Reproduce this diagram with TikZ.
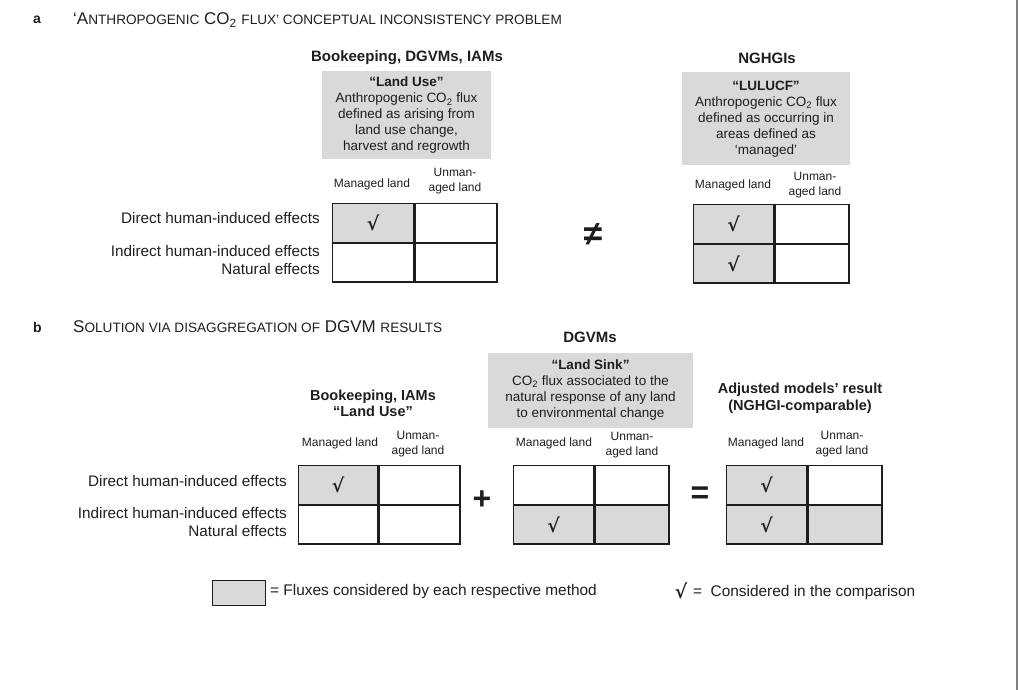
\documentclass[tikz,border=0pt]{standalone}
\usepackage{fontspec}
\setmainfont{Liberation Sans}
\newfontfamily\checkfont{DejaVu Serif}
\usetikzlibrary{positioning}
\definecolor{fluxgray}{RGB}{217,217,217}
\definecolor{inkgray}{RGB}{30,30,30}
\newcommand{\fsc}[1]{{\fontsize{13.6}{14}\selectfont #1}}
\newcommand{\chk}{{\checkfont\bfseries\fontsize{19}{19}\selectfont √}}
\tikzset{
  cell/.style={draw=inkgray, line width=1.3pt, minimum height=38.5pt, inner sep=0pt, anchor=north west},
  lit/.style={fill=fluxgray},
  defbox/.style={fill=fluxgray, align=center, inner sep=0pt, font=\fontsize{13.5}{16}\selectfont},
  method/.style={align=center, font=\bfseries\fontsize{15}{18}\selectfont},
  collab/.style={font=\fontsize{12}{15}\selectfont, inner sep=0pt},
  rowlab/.style={anchor=east, align=right, inner sep=0pt, font=\fontsize{15.3}{18}\selectfont},
  paneltitle/.style={anchor=west, inner sep=0pt, font=\fontsize{17}{17}\selectfont},
  keytxt/.style={anchor=west, inner sep=0pt, font=\fontsize{15.4}{16}\selectfont},
  bigop/.style={inner sep=0pt, font=\fontsize{30}{30}\selectfont}
}
\begin{document}
\begin{tikzpicture}[x=1pt, y=-1pt, text=inkgray]
  \useasboundingbox (0,0) rectangle (1018,690);
  %%%%% START %%%%%
  \def\rowh{38.5pt}
  \def\cwa{80pt}
  \def\cwb{74pt}

  \draw[black!50, line width=1.5pt] (1017,0) -- (1017,690);

  %% panel a
  \node[paneltitle, font=\bfseries\fontsize{14}{16}\selectfont] (tagA) at (33,20) {a};
  \node[paneltitle] (titleA) at (73,20) {‘A\fsc{NTHROPOGENIC} CO\textsubscript{2} \fsc{FLUX’ CONCEPTUAL INCONSISTENCY PROBLEM}};

  % land use (bookkeeping, DGVMs, IAMs)
  \node[method] (mAlu) at (407,58) {Bookeeping, DGVMs, IAMs};
  \node[defbox, minimum width=169pt, minimum height=88pt] (dAlu) at (406.5,115.5)
    {\textbf{“Land Use”}\\Anthropogenic CO\textsubscript{2} flux\\defined as arising from\\land use change,\\harvest and regrowth};
  \node[collab] (cAluM) at (372,184) {Managed land};
  \node[collab, align=center] (cAluU) at (455,181) {Unman-\\aged land};

  \node[cell, lit, minimum width=81pt] (aLUmd) at (332,203) {\chk};
  \node[cell, minimum width=82pt] (aLUud) at (aLUmd.north east) {};
  \node[cell, minimum width=81pt] (aLUmi) at (aLUmd.south west) {};
  \node[cell, minimum width=82pt] (aLUui) at (aLUmi.north east) {};

  \node[rowlab] (rAdir) at (320,218) {Direct human-induced effects};
  \node[rowlab] (rAind) at (320,260) {Indirect human-induced effects\\Natural effects};

  \node[bigop, font=\bfseries\fontsize{34}{34}\selectfont] (neq) at (593,235) {≠};

  % LULUCF (NGHGIs)
  \node[method] (mAng) at (767,58) {NGHGIs};
  \node[defbox, minimum width=168pt, minimum height=93pt] (dAng) at (766,119)
    {\textbf{“LULUCF”}\\Anthropogenic CO\textsubscript{2} flux\\defined as occurring in\\areas defined as\\‘managed’};
  \node[collab] (cAngM) at (733,185) {Managed land};
  \node[collab, align=center] (cAngU) at (815,185) {Unman-\\aged land};

  \node[cell, lit, minimum width=\cwa] (aNGmd) at (693,204) {\chk};
  \node[cell, minimum width=\cwb] (aNGud) at (aNGmd.north east) {};
  \node[cell, lit, minimum width=\cwa] (aNGmi) at (aNGmd.south west) {\chk};
  \node[cell, minimum width=\cwb] (aNGui) at (aNGmi.north east) {};

  %% panel b
  \node[paneltitle, font=\bfseries\fontsize{14}{16}\selectfont] (tagB) at (33,327) {b};
  \node[paneltitle] (titleB) at (73,327) {S\fsc{OLUTION VIA DISAGGREGATION OF} DGVM \fsc{RESULTS}};

  % land use
  \node[method, font=\bfseries\fontsize{14.5}{16}\selectfont] (mBlu) at (373,403) {Bookeeping, IAMs\\“Land Use”};
  \node[collab] (cBluM) at (340,443) {Managed land};
  \node[collab, align=center] (cBluU) at (418,444) {Unman-\\aged land};

  \node[cell, lit, minimum width=79pt] (bLUmd) at (298,465) {\chk};
  \node[cell, minimum width=81pt] (bLUud) at (bLUmd.north east) {};
  \node[cell, minimum width=79pt] (bLUmi) at (bLUmd.south west) {};
  \node[cell, minimum width=81pt] (bLUui) at (bLUmi.north east) {};

  \node[rowlab] (rBdir) at (287,481) {Direct human-induced effects};
  \node[rowlab] (rBind) at (287,522) {Indirect human-induced effects\\Natural effects};

  \node[bigop, font=\bfseries\fontsize{32}{32}\selectfont] (plus) at (482,500) {+};

  % land sink (DGVMs)
  \node[method] (mBls) at (590,337) {DGVMs};
  \node[defbox, minimum width=205pt, minimum height=75pt] (dBls) at (590.5,390)
    {\textbf{“Land Sink”}\\CO\textsubscript{2} flux associated to the\\natural response of any land\\to environmental change};
  \node[collab] (cBlsM) at (554,443) {Managed land};
  \node[collab, align=center] (cBlsU) at (632,445) {Unman-\\aged land};

  \node[cell, minimum width=\cwa] (bLSmd) at (513,465) {};
  \node[cell, minimum width=\cwb] (bLSud) at (bLSmd.north east) {};
  \node[cell, lit, minimum width=\cwa] (bLSmi) at (bLSmd.south west) {\chk};
  \node[cell, lit, minimum width=\cwb] (bLSui) at (bLSmi.north east) {};

  \node[bigop, font=\bfseries\fontsize{32}{32}\selectfont] (eq) at (700,495) {=};

  % adjusted result
  \node[method, font=\bfseries\fontsize{14.5}{17}\selectfont] (mBad) at (800,398) {Adjusted models’ result\\(NGHGI-comparable)};
  \node[collab] (cBadM) at (766,443) {Managed land};
  \node[collab, align=center] (cBadU) at (842,444) {Unman-\\aged land};

  \node[cell, lit, minimum width=\cwa] (bADmd) at (726,465) {\chk};
  \node[cell, minimum width=\cwb] (bADud) at (bADmd.north east) {};
  \node[cell, lit, minimum width=\cwa] (bADmi) at (bADmd.south west) {\chk};
  \node[cell, lit, minimum width=\cwb] (bADui) at (bADmi.north east) {};

  %% legend
  \node[cell, lit, line width=1pt, minimum width=53pt, minimum height=25pt] (keyBox) at (212,580) {};
  \node[keytxt] (keyBoxTxt) at ([xshift=4pt, yshift=1pt]keyBox.east) {= Fluxes considered by each respective method};
  \node[inner sep=0pt] (keyChk) at (681,591) {\chk};
  \node[keytxt] (keyChkTxt) at (693,593) {= \ Considered in the comparison};
  %%%%% END %%%%%
\end{tikzpicture}
\end{document}
